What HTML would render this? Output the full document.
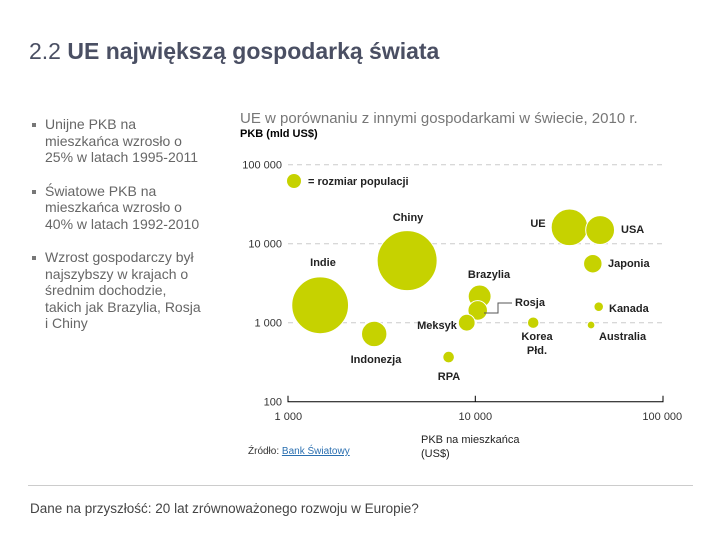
<!DOCTYPE html>
<html><head><meta charset="utf-8"><style>
body{margin:0;width:720px;height:540px;background:#fff;font-family:"Liberation Sans",sans-serif;position:relative;overflow:hidden}
.abs{position:absolute}
#title{left:29px;top:38px;font-size:23px;color:#4a4f63}
#title b{font-weight:bold}
ul{position:absolute;left:45px;top:116px;width:200px;margin:0;padding:0;list-style:none;font-size:14px;color:#666;line-height:16.5px;white-space:nowrap}
li{margin-bottom:17px;position:relative}
li::before{content:"";position:absolute;left:-13px;top:7px;width:4px;height:4px;background:#777}
#ctitle{left:240px;top:110px;font-size:15px;color:#777}
#ylab{left:240px;top:128px;font-size:11px;font-weight:bold;color:#000}
#footer{left:30px;top:501px;font-size:13.5px;color:#444}
#rule{left:28px;top:485px;width:665px;height:1px;background:#ccc}
</style></head><body>
<div id="title" class="abs">2.2 <b>UE największą gospodarką świata</b></div>
<ul>
<li>Unijne PKB na<br>mieszkańca wzrosło o<br>25% w latach 1995-2011</li>
<li>Światowe PKB na<br>mieszkańca wzrosło o<br>40% w latach 1992-2010</li>
<li>Wzrost gospodarczy był<br>najszybszy w krajach o<br>średnim dochodzie,<br>takich jak Brazylia, Rosja<br>i Chiny</li>
</ul>
<div id="ctitle" class="abs">UE w porównaniu z innymi gospodarkami w świecie, 2010 r.</div>
<div id="ylab" class="abs">PKB (mld US$)</div>
<svg id="chart" class="abs" style="left:0;top:0" width="720" height="480"></svg>
<div id="rule" class="abs"></div>
<div id="footer" class="abs">Dane na przyszłość: 20 lat zrównoważonego rozwoju w Europie?</div>
<script>
const countries=["Chiny","Indie","Indonezja","RPA","Meksyk","Rosja","Brazylia","Korea Płd.","UE","USA","Japonia","Kanada","Australia"];
const gdpPerCapita=[4320,1480,2880,7200,9000,10300,10550,20400,31900,46500,42500,45700,41600];
const gdp=[6100,1660,720,367,1000,1430,2150,1000,16100,14900,5580,1595,936];
const population=[1340,1200,240,50,105,142,195,49,500,310,127,34,22];
const xTicks=[1000,10000,100000];
const yTicks=[100,1000,10000,100000];
const tickText=["100","1 000","10 000","100 000"];
const labelPos=[[408,221,"middle"],[323,266,"middle"],[376,363,"middle"],[449,380,"middle"],[437,329,"middle"],[515,306,"start"],[489,278,"middle"],[537,340,"middle"],[538,227,"middle"],[621,233,"start"],[608,267,"start"],[609,312,"start"],[599,340,"start"]];
const NS="http://www.w3.org/2000/svg";
const svg=document.getElementById("chart");
const X=v=>288.3+187*Math.log10(v/1000);
const Y=v=>401.7-79*Math.log10(v/100);
const R=p=>30*Math.sqrt(p/1340);
function mk(t,a){const e=document.createElementNS(NS,t);for(const k in a)e.setAttribute(k,a[k]);svg.appendChild(e);return e;}
yTicks.forEach((v,i)=>{
  if(i>0){const l=mk("line",{x1:288,x2:663,y1:Y(v),y2:Y(v),stroke:"#ccc","stroke-dasharray":"5,4"});
  
  }
  const t=mk("text",{x:282,y:Y(v)+4,"text-anchor":"end","font-size":11,fill:"#333"});t.textContent=tickText[i];
  
  
});
const ax=mk("path",{d:`M288 ${Y(100)-6}V${Y(100)}H663V${Y(100)-6}M${X(10000)} ${Y(100)}v-6`,stroke:"#000",fill:"none"});


xTicks.forEach((v,i)=>{const t=mk("text",{x:X(v),y:420,"text-anchor":"middle","font-size":11,fill:"#333"});t.textContent=tickText[i+1];
  
  });
const order=countries.map((c,i)=>i).sort((a,b)=>population[b]-population[a]);
order.forEach(i=>{const c=mk("circle",{cx:X(gdpPerCapita[i]),cy:Y(gdp[i]),r:R(population[i]),fill:"#c6d200",stroke:"#fff","stroke-width":1});
  
  });
countries.forEach((c,i)=>{const p=labelPos[i];const parts=c==="Korea Płd."?["Korea","Płd."]:[c];
  parts.forEach((s,j)=>{const t=mk("text",{x:p[0],y:p[1]+j*14,"text-anchor":p[2],"font-size":11,"font-weight":"bold",fill:"#222"});t.textContent=s;
  
  });});
const rl=mk("path",{d:"M484 313H498V303H512",stroke:"#555",fill:"none"});


const lc=mk("circle",{cx:294,cy:181,r:7,fill:"#c6d200"});


const lt=mk("text",{x:308,y:185,"font-size":11,"font-weight":"bold",fill:"#222"});lt.textContent="= rozmiar populacji";


const s1=mk("text",{x:248,y:454,"font-size":10,fill:"#333"});s1.innerHTML='Źródło: <tspan fill="#2a6fb0" text-decoration="underline">Bank Światowy</tspan>';


["PKB na mieszkańca","(US$)"].forEach((s,j)=>{const t=mk("text",{x:421,y:443+j*14,"font-size":11,fill:"#222"});t.textContent=s;
  
  });
</script>
</body></html>
